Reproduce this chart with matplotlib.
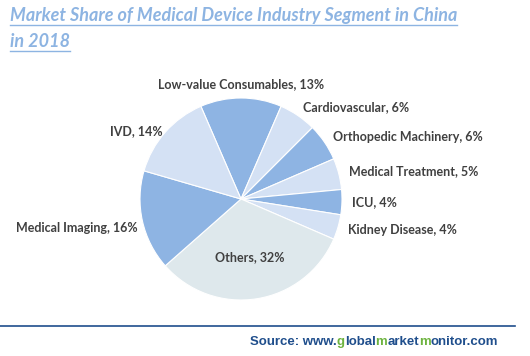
import numpy as np
import matplotlib
matplotlib.use("Agg")
import matplotlib.pyplot as plt
from matplotlib.lines import Line2D

# data, clockwise from the top
segments = ["Low-value Consumables", "Cardiovascular", "Orthopedic Machinery",
            "Medical Treatment", "ICU", "Kidney Disease", "Others",
            "Medical Imaging", "IVD"]
shares = [13, 6, 6, 5, 4, 4, 32, 16, 14]

light = "#D4E1F4"
mid = "#8EB4E3"
colors = [mid, light, mid, light, mid, light, "#DEE8EC", mid, light]

title_lines = ["Market Share of Medical Device Industry Segment in China", "in 2018"]

fig = plt.figure(figsize=(5.3, 3.56), dpi=100)
ax = fig.add_axes([(241 - 101) / 530, (356 - 300) / 356, 202 / 530, 202 / 356])

labels = [f"{s}, {v}%" if s != "Others" else "" for s, v in zip(segments, shares)]
start = 90 + shares[0] / 100 * 360 / 2
wedges, texts = ax.pie(shares, labels=labels, colors=colors, startangle=start,
                       counterclock=False, labeldistance=1.1,
                       wedgeprops=dict(edgecolor="white", linewidth=0.8),
                       textprops=dict(fontsize=9, fontweight="bold", color="#404040",
                                      family="Lato"))
ax.set_xlim(-1, 1)
ax.set_ylim(-1, 1)
ax.set_aspect("equal")
ax.axis("off")

for t in texts:
    t.set_clip_on(False)
    x, y = t.get_position()
    if abs(x) < 0.1:
        t.set_ha("center")
        t.set_va("bottom")
        t.set_position((x, 1.08))
    elif x < 0:
        # left-hand labels sit a bit lower and closer in the reference
        t.set_position((x + 0.05, y - 0.05))

# label inside the Others wedge
w = wedges[segments.index("Others")]
mid_ang = np.deg2rad((w.theta1 + w.theta2) / 2)
ax.text(0.58 * np.cos(mid_ang), 0.58 * np.sin(mid_ang), "Others, 32%",
        ha="center", va="center", fontsize=9, fontweight="bold",
        color="#404040", family="Lato")

# title with underline
renderer = fig.canvas.get_renderer()
title_color = "#8DB4E2"
ty = [1 - 21 / 356, 1 - 47 / 356]
for line, yy in zip(title_lines, ty):
    t = fig.text(10 / 530, yy, line, fontsize=13, fontweight="bold", style="italic",
                 color=title_color, family="Lato", va="baseline", ha="left")
    bb = t.get_window_extent(renderer).transformed(fig.transFigure.inverted())
    fig.add_artist(Line2D([bb.x0, bb.x1], [yy - 4 / 356, yy - 4 / 356],
                          color=title_color, lw=1.0, transform=fig.transFigure))

# bottom rule
fig.add_artist(Line2D([0, 515 / 530], [1 - 326 / 356, 1 - 326 / 356],
                      color="#1F4E8C", lw=1.2, transform=fig.transFigure))

# source line, split into blue and green pieces
blue = "#1F4E8C"
green = "#6DB33F"
source_parts = [("Source: www.", blue), ("g", green), ("lobal", blue), ("m", green),
                ("arket", blue), ("m", green), ("onitor.com", blue)]
sx, sy = 250 / 530, 1 - 345 / 356
src_kw = dict(fontsize=9.5, fontweight="bold", family="Liberation Sans",
              va="baseline", ha="left")


def ink_width(s):
    tmp = fig.text(0, 0, s, **src_kw)
    wpx = tmp.get_window_extent(renderer).width
    tmp.remove()
    return wpx


prefix = ""
for piece, c in source_parts:
    off = ink_width(prefix + piece) - ink_width(piece) if prefix else 0
    fig.text(sx + off / 530, sy, piece, color=c, **src_kw)
    prefix += piece

fig.savefig("out.png", dpi=100)
